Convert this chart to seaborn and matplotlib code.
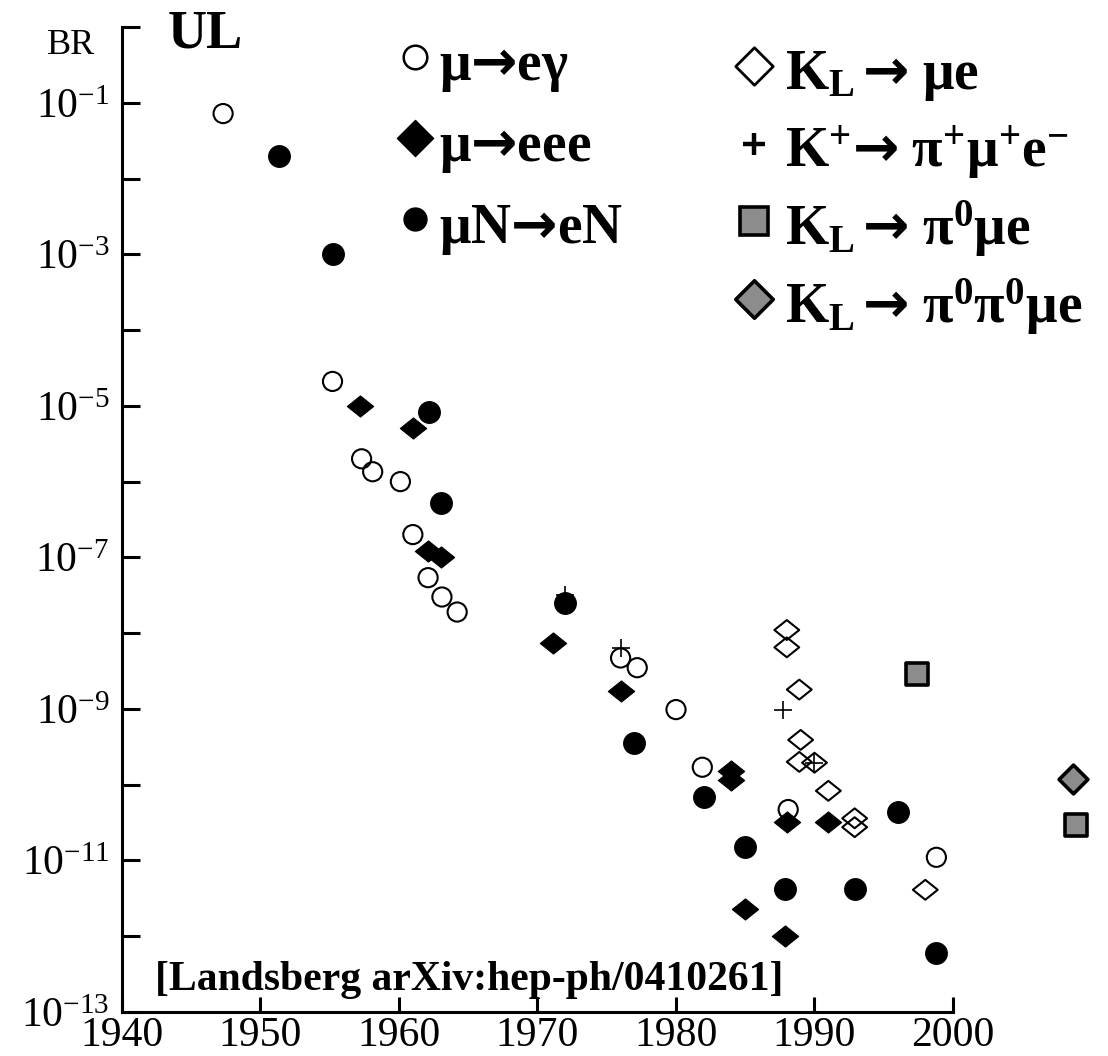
import numpy as np
import matplotlib
matplotlib.use("Agg")
import matplotlib.pyplot as plt
from matplotlib.path import Path
from matplotlib.lines import Line2D
from matplotlib.ticker import FixedLocator, FuncFormatter, NullLocator
import seaborn as sns

# Upper limits (UL) on branching ratios of lepton-flavour-violating decays vs. year
meg_year = [1947.3, 1955.2, 1957.3, 1958.1, 1960.1, 1961.0, 1962.1, 1963.1, 1964.2,
            1976.0, 1977.2, 1980.0, 1981.9, 1988.1, 1998.8]
meg_br = [7.2e-2, 2.1e-5, 2.0e-6, 1.35e-6, 1.0e-6, 2.0e-7, 5.4e-8, 3.0e-8, 1.9e-8,
          4.7e-9, 3.5e-9, 9.8e-10, 1.7e-10, 4.7e-11, 1.1e-11]

m3e_year = [1957.2, 1961.0, 1962.1, 1963.0, 1971.1, 1976.0, 1984.0, 1984.0,
            1985.0, 1987.9, 1988.0, 1991.0]
m3e_br = [1.0e-5, 5.1e-6, 1.2e-7, 1.0e-7, 7.4e-9, 1.7e-9, 1.5e-10, 1.15e-10,
          2.3e-12, 1.0e-12, 3.2e-11, 3.2e-11]

mue_year = [1951.3, 1955.2, 1962.2, 1963.0, 1972.0, 1977.0, 1982.0, 1985.0,
            1987.9, 1992.9, 1996.0, 1998.8]
mue_br = [2.0e-2, 1.0e-3, 8.3e-6, 5.2e-7, 2.5e-8, 3.6e-10, 6.8e-11, 1.5e-11,
          4.2e-12, 4.2e-12, 4.3e-11, 6.0e-13]

klme_year = [1988.0, 1988.0, 1988.9, 1989.0, 1988.9, 1990.0, 1991.0, 1992.9, 1992.9, 1998.0]
klme_br = [1.1e-8, 6.5e-9, 1.8e-9, 3.9e-10, 2.0e-10, 1.95e-10, 8.3e-11, 3.6e-11,
           2.75e-11, 4.1e-12]

kpme_year = [1972.0, 1976.0, 1987.7, 1990.0]
kpme_br = [3.2e-8, 6.3e-9, 9.8e-10, 1.95e-10]

klp0me_year = [1997.4, 2008.9]
klp0me_br = [2.9e-9, 2.9e-11]

klp0p0me_year = [2008.7]
klp0p0me_br = [1.2e-10]

year_ticks = [1940, 1950, 1960, 1970, 1980, 1990, 2000]

# bold sans arrow, written as a plain glyph so mathtext adds no relation spacing
ARROW = r"\mathsf{→}"
legend_left = [rf"$\mathbf{{\mu}}{ARROW}\mathbf{{e\gamma}}$",
               rf"$\mathbf{{\mu}}{ARROW}\mathbf{{eee}}$",
               rf"$\mathbf{{\mu N}}{ARROW}\mathbf{{eN}}$"]
legend_right = [rf"$\mathbf{{K_L}}\,{ARROW}\ \mathbf{{\mu e}}$",
                rf"$\mathbf{{K^{{+}}}}{ARROW}\ \mathbf{{\pi^{{+}}\mu^{{+}}e^{{-}}}}$",
                rf"$\mathbf{{K_L}}\,{ARROW}\ \mathbf{{\pi^{{0}}\mu e}}$",
                rf"$\mathbf{{K_L}}\,{ARROW}\ \mathbf{{\pi^{{0}}\pi^{{0}}\mu e}}$"]

sns.set_theme(style="ticks", rc={"axes.edgecolor": "black", "text.color": "black",
                                 "xtick.color": "black", "ytick.color": "black"})
plt.rcParams["font.family"] = ["Liberation Serif", "DejaVu Serif"]
plt.rcParams["mathtext.fontset"] = "custom"
plt.rcParams["mathtext.rm"] = "Liberation Serif"
plt.rcParams["mathtext.it"] = "Liberation Serif:italic"
plt.rcParams["mathtext.bf"] = "Liberation Serif:bold"
plt.rcParams["mathtext.sf"] = "DejaVu Sans:bold"

W, H = 1108, 1056
fig = plt.figure(figsize=(W / 100, H / 100), dpi=100)
ax = fig.add_axes([122 / W, 1 - 1012 / H, (953 - 122) / W, (1012 - 27) / H])

codes = [Path.MOVETO, Path.LINETO, Path.LINETO, Path.LINETO, Path.CLOSEPOLY]
wide_diamond = Path([(-1.25, 0), (0, 1), (1.25, 0), (0, -1), (-1.25, 0)], codes)
diamond = Path([(-1, 0), (0, 1), (1, 0), (0, -1), (-1, 0)], codes)
gray = "#8c8c8c"

common = dict(ax=ax, clip_on=False, legend=False)
sns.scatterplot(x=kpme_year, y=kpme_br, marker="+", s=150, color="black",
                linewidth=1.2, zorder=2, **common)
sns.scatterplot(x=meg_year, y=meg_br, marker="o", s=190, color="black",
                facecolor="none", edgecolor="black", linewidth=1.5, zorder=3, **common)
sns.scatterplot(x=klme_year, y=klme_br, marker=wide_diamond, s=320, color="black",
                facecolor="none", edgecolor="black", linewidth=1.5, zorder=3, **common)
sns.scatterplot(x=m3e_year, y=m3e_br, marker=wide_diamond, s=360, color="black",
                edgecolor="black", linewidth=0.8, zorder=3, **common)
sns.scatterplot(x=mue_year, y=mue_br, marker="o", s=245, color="black",
                edgecolor="black", linewidth=0.8, zorder=3, **common)
sns.scatterplot(x=klp0me_year, y=klp0me_br, marker="s", s=255, color=gray,
                edgecolor="black", linewidth=2.6, zorder=3, **common)
sns.scatterplot(x=klp0p0me_year, y=klp0p0me_br, marker=diamond, s=430, color=gray,
                edgecolor="black", linewidth=2.6, zorder=3, **common)

ax.set_xscale("linear")
ax.set_yscale("log")
ax.set_xlim(1940, 2000)
ax.set_ylim(1e-13, 1)
ax.set_xlabel("")
ax.set_ylabel("")

ax.set_xticks(year_ticks)
ax.set_xticklabels([str(y) for y in year_ticks])
ax.yaxis.set_major_locator(FixedLocator(10.0 ** np.arange(-13, 1)))
ax.yaxis.set_minor_locator(NullLocator())


def decade_label(v, pos):
    e = int(round(np.log10(v)))
    if e < 0 and e % 2 == 1:
        return rf"$10^{{{e}}}$"
    return ""


ax.yaxis.set_major_formatter(FuncFormatter(decade_label))

for side in ("top", "right"):
    ax.spines[side].set_visible(False)
for side in ("left", "bottom"):
    ax.spines[side].set_linewidth(2.2)
    ax.spines[side].set_color("black")

ax.tick_params(axis="x", direction="in", length=11, width=2.2, labelsize=30, pad=3.5)
ax.tick_params(axis="y", direction="in", length=13, width=2.2, labelsize=30, pad=9)

fig.text(71 / W, 1 - 45 / H, "BR", ha="center", va="center", fontsize=26)
fig.text(168 / W, 1 - 48 / H, "UL", ha="left", va="baseline", fontsize=39,
         fontweight="bold")
fig.text(155 / W, 1 - 990 / H, "[Landsberg arXiv:hep-ph/0410261]", ha="left",
         va="baseline", fontsize=30, fontweight="bold")

left_handles = [
    Line2D([], [], ls="none", marker="o", ms=17, mfc="none", mec="black", mew=1.8),
    Line2D([], [], ls="none", marker=diamond, ms=26, mfc="black", mec="black"),
    Line2D([], [], ls="none", marker="o", ms=16.5, mfc="black", mec="black"),
]
right_handles = [
    Line2D([], [], ls="none", marker=diamond, ms=27, mfc="none", mec="black", mew=2.0),
    Line2D([], [], ls="none", marker="+", ms=16, mec="black", mew=3.2),
    Line2D([], [], ls="none", marker="s", ms=19.5, mfc=gray, mec="black", mew=2.6),
    Line2D([], [], ls="none", marker=diamond, ms=27, mfc=gray, mec="black", mew=2.6),
]

legend_kw = dict(frameon=False, borderpad=0, borderaxespad=0, handlelength=0.85,
                 handleheight=1.2, loc="upper left", bbox_transform=fig.transFigure,
                 prop={"size": 40, "weight": "bold"})
leg1 = ax.legend(left_handles, legend_left, bbox_to_anchor=(391 / W, 1 - 33 / H),
                 handletextpad=0.02, labelspacing=0.36, **legend_kw)
ax.add_artist(leg1)
ax.legend(right_handles, legend_right, bbox_to_anchor=(730 / W, 1 - 42 / H),
          handletextpad=0.14, labelspacing=0.30, **legend_kw)

fig.savefig("out.png", dpi=100)
